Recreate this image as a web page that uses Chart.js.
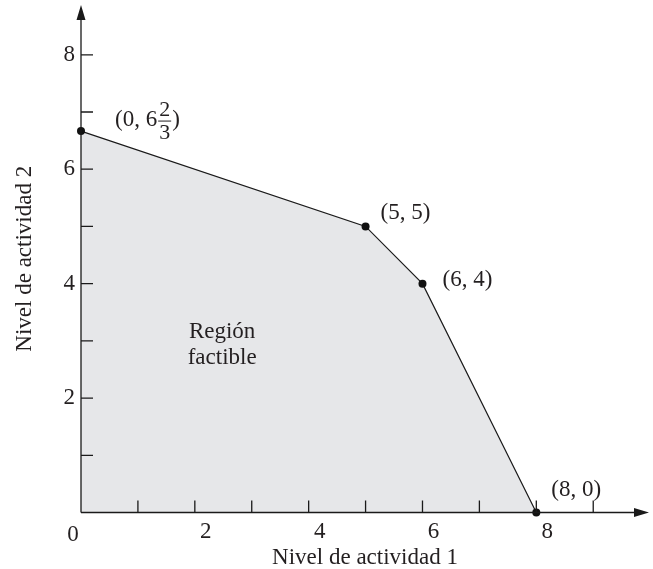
<!DOCTYPE html>
<html>
<head>
<meta charset="utf-8">
<script src="https://cdn.jsdelivr.net/npm/chart.js@4.4.1/dist/chart.umd.min.js"></script>
<style>
  html, body { margin: 0; padding: 0; background: #fff; }
  #wrap { width: 653px; height: 569px; }
</style>
</head>
<body>
<div id="wrap"><canvas id="chart" width="653" height="569"></canvas></div>
<script>
// corner points of the feasible region
const vertexX = [0, 5, 6, 8];
const vertexY = [20 / 3, 5, 4, 0];
const vertexLabels = ["(0, 6 2/3)", "(5, 5)", "(6, 4)", "(8, 0)"];

const regionLabel = ["Región", "factible"];
const regionLabelAt = [2.48, 2.93];

// ticks
const xTickMarks = [1, 2, 3, 4, 5, 6, 7, 8, 9];
const yTickMarks = [1, 2, 3, 4, 5, 6, 7, 8];
const xTickLabels = [2, 4, 6, 8];
const yTickLabels = [2, 4, 6, 8];

const xTitle = "Nivel de actividad 1";
const yTitle = "Nivel de actividad 2";

const serif = "'Liberation Serif', 'Times New Roman', serif";
const ink = "#231f20";

//axis lines, inner tick marks and arrow heads
const axesPlugin = {
  id: "axes",
  afterDatasetsDraw(chart) {
    const { ctx, chartArea: a, scales } = chart;
    const x0 = scales.x.getPixelForValue(0);
    const y0 = scales.y.getPixelForValue(0);
    ctx.save();
    ctx.strokeStyle = "#1a1a1a";
    ctx.fillStyle = "#1a1a1a";
    ctx.lineWidth = 1.3;
    ctx.beginPath();
    ctx.moveTo(x0, y0);
    ctx.lineTo(a.right - 10, y0);
    ctx.moveTo(x0, y0);
    ctx.lineTo(x0, a.top + 10);
    xTickMarks.forEach((v) => {
      const px = scales.x.getPixelForValue(v);
      ctx.moveTo(px, y0);
      ctx.lineTo(px, y0 - 12);
    });
    yTickMarks.forEach((v) => {
      const py = scales.y.getPixelForValue(v);
      ctx.moveTo(x0, py);
      ctx.lineTo(x0 + 12, py);
    });
    ctx.stroke();

    ctx.beginPath();
    ctx.moveTo(a.right, y0);
    ctx.lineTo(a.right - 15, y0 - 4.5);
    ctx.lineTo(a.right - 15, y0 + 4.5);
    ctx.closePath();
    ctx.moveTo(x0, a.top);
    ctx.lineTo(x0 - 4.5, a.top + 15);
    ctx.lineTo(x0 + 4.5, a.top + 15);
    ctx.closePath();
    ctx.fill();

    // origin label
    ctx.fillStyle = ink;
    ctx.font = "23px " + serif;
    ctx.textAlign = "center";
    ctx.textBaseline = "middle";
    ctx.fillText("0", x0 - 8, y0 + 22);
    ctx.restore();
  },
};

//text next to the corner points and inside the region
const labelOffsets = [[34, -11], [15, -13], [20, -4], [15, -23]];
const labelsPlugin = {
  id: "labels",
  afterDatasetsDraw(chart) {
    const { ctx, scales } = chart;
    ctx.save();
    ctx.fillStyle = ink;
    ctx.strokeStyle = ink;
    ctx.textBaseline = "middle";
    vertexLabels.forEach((txt, i) => {
      const px = scales.x.getPixelForValue(vertexX[i]) + labelOffsets[i][0];
      const py = scales.y.getPixelForValue(vertexY[i]) + labelOffsets[i][1];
      ctx.font = "23px " + serif;
      ctx.textAlign = "left";
      const m = txt.match(/^(.*\d) (\d+)\/(\d+)(\))$/);
      if (!m) {
        ctx.fillText(txt, px, py);
        return;
      }
      // mixed number: stacked fraction
      ctx.fillText(m[1], px, py);
      let cx = px + ctx.measureText(m[1]).width + 1;
      ctx.font = "22px " + serif;
      const fw = Math.max(ctx.measureText(m[2]).width, ctx.measureText(m[3]).width) + 2;
      ctx.textAlign = "center";
      ctx.fillText(m[2], cx + fw / 2, py - 10);
      ctx.fillText(m[3], cx + fw / 2, py + 13);
      ctx.lineWidth = 1;
      ctx.beginPath();
      ctx.moveTo(cx, py + 1);
      ctx.lineTo(cx + fw, py + 1);
      ctx.stroke();
      ctx.font = "23px " + serif;
      ctx.textAlign = "left";
      ctx.fillText(m[4], cx + fw + 1, py);
    });

    ctx.font = "23px " + serif;
    ctx.textAlign = "center";
    const rx = scales.x.getPixelForValue(regionLabelAt[0]);
    const ry = scales.y.getPixelForValue(regionLabelAt[1]);
    ctx.fillText(regionLabel[0], rx, ry - 13);
    ctx.fillText(regionLabel[1], rx, ry + 13);
    ctx.restore();
  },
};

new Chart(document.getElementById("chart"), {
  type: "scatter",
  data: {
    datasets: [
      {
        data: vertexX.map((x, i) => ({ x: x, y: vertexY[i] })),
        showLine: true,
        borderColor: "#1a1a1a",
        borderWidth: 1.2,
        backgroundColor: "#e6e7e9",
        fill: "origin",
        tension: 0,
        pointRadius: 4,
        pointBackgroundColor: "#111111",
        pointBorderColor: "#111111",
        pointBorderWidth: 0,
        clip: false,
      },
    ],
  },
  options: {
    responsive: false,
    animation: false,
    events: [],
    layout: { padding: { top: 5, right: 1, left: 0, bottom: 0 } },
    plugins: {
      legend: { display: false },
      tooltip: { enabled: false },
    },
    scales: {
      x: {
        type: "linear",
        min: 0,
        max: 9.98,
        grid: { display: false, drawTicks: false },
        border: { display: false },
        ticks: {
          stepSize: 1,
          includeBounds: false,
          autoSkip: false,
          maxRotation: 0,
          padding: 6,
          labelOffset: 11,
          color: ink,
          font: { family: serif, size: 23 },
          callback: (v) => (xTickLabels.includes(v) ? String(v) : ""),
        },
        title: {
          display: true,
          text: xTitle,
          color: ink,
          font: { family: serif, size: 23, lineHeight: 1 },
          padding: { top: 0, bottom: 0 },
        },
        afterFit: (s) => {
          s.height = 56.5;
          s.paddingLeft = 0;
          s.paddingRight = 0;
        },
      },
      y: {
        type: "linear",
        min: 0,
        max: 8.87,
        grid: { display: false, drawTicks: false },
        border: { display: false },
        ticks: {
          stepSize: 1,
          includeBounds: false,
          autoSkip: false,
          padding: 6,
          color: ink,
          font: { family: serif, size: 23 },
          callback: (v) => (yTickLabels.includes(v) ? String(v) : ""),
        },
        title: {
          display: true,
          text: yTitle,
          color: ink,
          font: { family: serif, size: 23, lineHeight: 1 },
          padding: { top: 13, bottom: 0 },
        },
        afterFit: (s) => {
          s.width = 81;
          s.paddingTop = 0;
          s.paddingBottom = 0;
        },
      },
    },
  },
  plugins: [axesPlugin, labelsPlugin],
});
</script>
</body>
</html>
